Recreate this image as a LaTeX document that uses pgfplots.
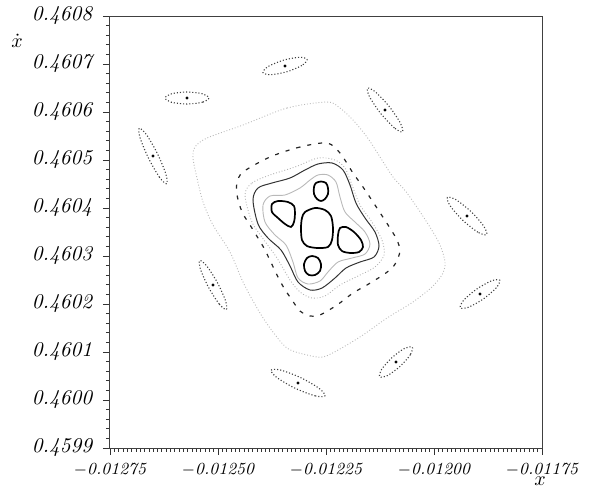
\documentclass[border=0pt]{standalone}
\usepackage{fontspec}
\usepackage{pgfplots}
\pgfplotsset{compat=1.18}
\begin{document}
\begin{tikzpicture}
\path[use as bounding box] (-55pt,-20pt) rectangle (250pt,224pt);
\begin{axis}[
  width=216pt, height=216pt, scale only axis,
  xmin=-0.01275, xmax=-0.01175, ymin=0.4599, ymax=0.4608,
  scaled x ticks=false, scaled y ticks=false,
  xtick={-0.01275,-0.0125,-0.01225,-0.012,-0.01175},
  xticklabels={$-$0.01275,$-$0.01250,$-$0.01225,$-$0.01200,$-$0.01175},
  ytick={0.4599,0.46,0.4601,0.4602,0.4603,0.4604,0.4605,0.4606,0.4607,0.4608},
  yticklabels={0.4599,0.4600,0.4601,0.4602,0.4603,0.4604,0.4605,0.4606,0.4607,0.4608},
  minor x tick num=24, minor y tick num=4,
  tick align=outside, xtick pos=bottom, ytick pos=left,
  major tick length=3.5pt, minor tick length=2pt,
  tick style={black!80, line width=0.35pt},
  axis line style={black!75, line width=0.5pt},
  xticklabel style={font=\fontsize{8.5}{10}\selectfont\itshape, inner sep=0.8pt, yshift=-3pt},
  yticklabel style={font=\fontsize{10.5}{12}\selectfont\itshape, inner sep=0.8pt, xshift=-4.5pt},
  xlabel={$x$}, ylabel={$\dot{x}$},
  every axis x label/.style={at={(rel axis cs:1,0)}, anchor=center, inner sep=0pt, xshift=-1pt, yshift=-16.5pt, font=\fontsize{10}{12}\selectfont},
  every axis y label/.style={at={(rel axis cs:0,1)}, anchor=center, inner sep=0pt, xshift=-46.5pt, yshift=-12.5pt, font=\fontsize{10}{12}\selectfont},
  clip=true,
]
% outer large invariant curve (light dotted)
\addplot[smooth cycle, gray!55, densely dotted, line width=0.45pt] coordinates {
(-0.0122477,0.4606208) (-0.0123403,0.4606083) (-0.0124421,0.4605729) (-0.0125255,0.4605458)
(-0.0125532,0.4605271) (-0.0125579,0.4605042) (-0.0125486,0.4604625) (-0.0125347,0.4604125)
(-0.0125116,0.4603646) (-0.0124722,0.4603083) (-0.0124421,0.4602458) (-0.0124097,0.4601917)
(-0.0123796,0.4601500) (-0.0123403,0.4601083) (-0.0122940,0.4600938) (-0.0122569,0.4600896)
(-0.0122176,0.4601063) (-0.0121644,0.4601354) (-0.0121088,0.4601708) (-0.0120486,0.4602042)
(-0.0120023,0.4602375) (-0.0119792,0.4602646) (-0.0119745,0.4602875) (-0.0119861,0.4603229)
(-0.0120139,0.4603667) (-0.0120625,0.4604313) (-0.0120949,0.4604646) (-0.0121250,0.4605063)
(-0.0121551,0.4605479) (-0.0121875,0.4605833) (-0.0122176,0.4606083)
};
% dashed curve
\addplot[smooth cycle, black!85, dash pattern=on 2pt off 3.5pt, line width=0.6pt] coordinates {
(-0.0122477,0.4605354) (-0.0123102,0.4605271) (-0.0123796,0.4605063) (-0.0124421,0.4604750)
(-0.0124560,0.4604521) (-0.0124560,0.4604271) (-0.0124444,0.4603917) (-0.0124259,0.4603646)
(-0.0124074,0.4603375) (-0.0123912,0.4603125) (-0.0123634,0.4602604) (-0.0123472,0.4602333)
(-0.0123287,0.4602083) (-0.0123102,0.4601854) (-0.0122870,0.4601750) (-0.0122639,0.4601771)
(-0.0122245,0.4601979) (-0.0121875,0.4602229) (-0.0121551,0.4602396) (-0.0121181,0.4602604)
(-0.0120949,0.4602771) (-0.0120833,0.4602958) (-0.0120787,0.4603125) (-0.0120857,0.4603333)
(-0.0121019,0.4603583) (-0.0121412,0.4604125) (-0.0121644,0.4604438) (-0.0121875,0.4604729)
(-0.0122176,0.4605146)
};
% medium dotted curve
\addplot[smooth cycle, gray!60, densely dotted, line width=0.45pt] coordinates {
(-0.0124375,0.4604271) (-0.0124213,0.4604521) (-0.0123796,0.4604688) (-0.0123218,0.4604854)
(-0.0122685,0.4605042) (-0.0122292,0.4605000) (-0.0122060,0.4604833) (-0.0121898,0.4604479)
(-0.0121713,0.4604063) (-0.0121435,0.4603708) (-0.0121204,0.4603333) (-0.0121157,0.4603021)
(-0.0121366,0.4602771) (-0.0121759,0.4602583) (-0.0122176,0.4602396) (-0.0122523,0.4602167)
(-0.0122824,0.4602125) (-0.0123102,0.4602250) (-0.0123333,0.4602500) (-0.0123634,0.4602958)
(-0.0123935,0.4603333) (-0.0124213,0.4603708)
};
% thin solid wavy curve
\addplot[smooth cycle, black!80, line width=0.5pt] coordinates {
(-0.0124190,0.4604167) (-0.0124074,0.4604417) (-0.0123750,0.4604521) (-0.0123333,0.4604625)
(-0.0122986,0.4604792) (-0.0122685,0.4604917) (-0.0122361,0.4604938) (-0.0122107,0.4604792)
(-0.0121944,0.4604479) (-0.0121806,0.4604104) (-0.0121597,0.4603792) (-0.0121366,0.4603500)
(-0.0121273,0.4603208) (-0.0121389,0.4602979) (-0.0121713,0.4602875) (-0.0122037,0.4602750)
(-0.0122292,0.4602542) (-0.0122593,0.4602333) (-0.0122870,0.4602292) (-0.0123148,0.4602458)
(-0.0123333,0.4602792) (-0.0123542,0.4603125) (-0.0123843,0.4603375) (-0.0124074,0.4603667)
};
% inner light curve hugging islands
\addplot[smooth cycle, gray!55, line width=0.45pt] coordinates {
(-0.0123958,0.4604063) (-0.0123796,0.4604250) (-0.0123449,0.4604271) (-0.0123102,0.4604417)
(-0.0122870,0.4604583) (-0.0122685,0.4604688) (-0.0122454,0.4604688) (-0.0122269,0.4604542)
(-0.0122176,0.4604229) (-0.0122060,0.4603917) (-0.0121829,0.4603708) (-0.0121597,0.4603500)
(-0.0121482,0.4603250) (-0.0121597,0.4603042) (-0.0121898,0.4602958) (-0.0122222,0.4602875)
(-0.0122454,0.4602667) (-0.0122639,0.4602479) (-0.0122917,0.4602417) (-0.0123148,0.4602542)
(-0.0123264,0.4602875) (-0.0123426,0.4603229) (-0.0123681,0.4603438) (-0.0123912,0.4603708)
};
% four inner islands and central island
\addplot[smooth cycle, black, line width=0.85pt] coordinates {
(-0.0122616,0.4604552) (-0.0122500,0.4604521) (-0.0122454,0.4604417) (-0.0122454,0.4604292)
(-0.0122523,0.4604188) (-0.0122616,0.4604146) (-0.0122708,0.4604188) (-0.0122778,0.4604292)
(-0.0122778,0.4604438) (-0.0122732,0.4604521)
};
\addplot[smooth cycle, black, line width=0.85pt] coordinates {
(-0.0123750,0.4604083) (-0.0123611,0.4604146) (-0.0123380,0.4604125) (-0.0123241,0.4604042)
(-0.0123218,0.4603875) (-0.0123241,0.4603708) (-0.0123310,0.4603604) (-0.0123449,0.4603667)
(-0.0123611,0.4603792) (-0.0123750,0.4603917)
};
\addplot[smooth cycle, black, line width=0.85pt] coordinates {
(-0.0122176,0.4603583) (-0.0122037,0.4603604) (-0.0121852,0.4603500) (-0.0121690,0.4603333)
(-0.0121644,0.4603188) (-0.0121736,0.4603083) (-0.0121944,0.4603063) (-0.0122130,0.4603104)
(-0.0122222,0.4603229) (-0.0122222,0.4603438)
};
\addplot[smooth cycle, black, line width=0.85pt] coordinates {
(-0.0122824,0.4603000) (-0.0122685,0.4602958) (-0.0122616,0.4602833) (-0.0122639,0.4602688)
(-0.0122755,0.4602604) (-0.0122894,0.4602604) (-0.0122986,0.4602688) (-0.0123009,0.4602833)
(-0.0122940,0.4602958)
};
\addplot[smooth cycle, black, line width=0.85pt] coordinates {
(-0.0122986,0.4603917) (-0.0122755,0.4604000) (-0.0122523,0.4603958) (-0.0122384,0.4603833)
(-0.0122338,0.4603583) (-0.0122361,0.4603333) (-0.0122454,0.4603188) (-0.0122708,0.4603167)
(-0.0122940,0.4603208) (-0.0123056,0.4603333) (-0.0123079,0.4603583) (-0.0123056,0.4603792)
};
% outer chain of nine islands
\addplot[smooth cycle, black!75, densely dotted, line width=0.55pt] coordinates {
(-0.0125208,0.4606292) (-0.0125356,0.4606204) (-0.0125718,0.4606167) (-0.0126079,0.4606204)
(-0.0126227,0.4606292) (-0.0126079,0.4606379) (-0.0125718,0.4606417) (-0.0125356,0.4606379)
};
\addplot[smooth cycle, black!75, densely dotted, line width=0.55pt] coordinates {
(-0.0122937,0.4607094) (-0.0123060,0.4606969) (-0.0123410,0.4606838) (-0.0123782,0.4606777)
(-0.0123961,0.4606823) (-0.0123838,0.4606948) (-0.0123488,0.4607079) (-0.0123116,0.4607140)
};
\addplot[smooth cycle, black!75, densely dotted, line width=0.55pt] coordinates {
(-0.0120729,0.4605585) (-0.0120917,0.4605669) (-0.0121234,0.4605971) (-0.0121491,0.4606315)
(-0.0121539,0.4606498) (-0.0121352,0.4606415) (-0.0121035,0.4606113) (-0.0120778,0.4605769)
};
\addplot[smooth cycle, black!75, densely dotted, line width=0.55pt] coordinates {
(-0.0118782,0.4603446) (-0.0118984,0.4603496) (-0.0119331,0.4603742) (-0.0119623,0.4604042)
(-0.0119690,0.4604221) (-0.0119488,0.4604171) (-0.0119141,0.4603923) (-0.0118850,0.4603625)
};
\addplot[smooth cycle, black!75, densely dotted, line width=0.55pt] coordinates {
(-0.0118479,0.4602496) (-0.0118558,0.4602338) (-0.0118856,0.4602106) (-0.0119201,0.4601933)
(-0.0119391,0.4601921) (-0.0119313,0.4602079) (-0.0119014,0.4602310) (-0.0118669,0.4602483)
};
\addplot[smooth cycle, black!75, densely dotted, line width=0.55pt] coordinates {
(-0.0120502,0.4601100) (-0.0120546,0.4600946) (-0.0120787,0.4600700) (-0.0121079,0.4600508)
(-0.0121257,0.4600483) (-0.0121213,0.4600638) (-0.0120972,0.4600883) (-0.0120681,0.4601075)
};
\addplot[smooth cycle, black!75, densely dotted, line width=0.55pt] coordinates {
(-0.0122521,0.4600088) (-0.0122745,0.4600085) (-0.0123208,0.4600242) (-0.0123634,0.4600465)
(-0.0123775,0.4600621) (-0.0123551,0.4600623) (-0.0123088,0.4600467) (-0.0122662,0.4600244)
};
\addplot[smooth cycle, black!75, densely dotted, line width=0.55pt] coordinates {
(-0.0124808,0.4601883) (-0.0124970,0.4601998) (-0.0125218,0.4602346) (-0.0125405,0.4602723)
(-0.0125424,0.4602908) (-0.0125262,0.4602794) (-0.0125014,0.4602446) (-0.0124826,0.4602069)
};
\addplot[smooth cycle, black!75, densely dotted, line width=0.55pt] coordinates {
(-0.0126188,0.4604504) (-0.0126354,0.4604640) (-0.0126609,0.4605038) (-0.0126803,0.4605460)
(-0.0126822,0.4605663) (-0.0126655,0.4605527) (-0.0126400,0.4605129) (-0.0126206,0.4604706)
};
% island centres
\addplot[only marks, mark=*, mark size=0.55pt, black] coordinates {
(-0.0125718,0.4606292) (-0.0123449,0.4606958) (-0.0121134,0.4606042) (-0.0119236,0.4603833)
(-0.0118935,0.4602208) (-0.0120880,0.4600792) (-0.0123148,0.4600354) (-0.0125116,0.4602396)
(-0.0126505,0.4605083)
};
\end{axis}
\end{tikzpicture}
\end{document}
